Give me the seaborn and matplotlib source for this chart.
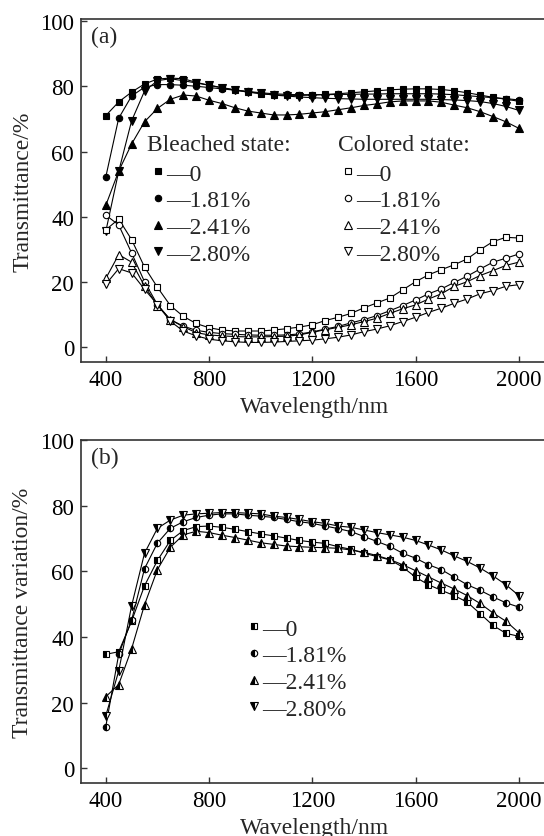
import numpy as np
import matplotlib
matplotlib.use("Agg")
import matplotlib.pyplot as plt
import seaborn as sns
from matplotlib.lines import Line2D

# wavelength grid (nm)
wavelength = [400, 450, 500, 550, 600, 650, 700, 750, 800, 850, 900, 950, 1000,
              1050, 1100, 1150, 1200, 1250, 1300, 1350, 1400, 1450, 1500, 1550,
              1600, 1650, 1700, 1750, 1800, 1850, 1900, 1950, 2000]

# (a) bleached state transmittance
bleached_0 = [71.0, 75.2, 78.2, 80.7, 82.2, 82.5, 82.3, 81.2, 80.3, 79.5, 78.8, 78.2, 77.7,
              77.4, 77.2, 77.2, 77.3, 77.5, 77.7, 78.0, 78.3, 78.6, 78.9, 79.1,
              79.2, 79.2, 79.0, 78.6, 78.0, 77.3, 76.6, 76.0, 75.4]
bleached_181 = [52.2, 70.2, 77.0, 79.7, 80.5, 80.5, 80.3, 80.0, 79.6, 79.2, 78.8, 78.4, 78.0,
                77.7, 77.5, 77.4, 77.4, 77.4, 77.5, 77.5, 77.6, 77.6, 77.7, 77.7,
                77.7, 77.7, 77.6, 77.4, 77.1, 76.8, 76.5, 76.2, 75.8]
bleached_241 = [43.5, 54.0, 62.3, 69.1, 73.2, 76.0, 77.3, 77.0, 75.7, 74.7, 73.4, 72.4, 71.8,
                71.2, 71.2, 71.4, 71.8, 72.2, 72.8, 73.4, 74.1, 74.6, 75.2, 75.5,
                75.5, 75.5, 75.1, 74.2, 73.4, 72.2, 70.7, 69.1, 67.1]
bleached_280 = [35.5, 53.9, 69.4, 78.5, 81.7, 82.3, 81.7, 81.0, 80.3, 79.6, 78.9, 78.3, 77.8,
                77.3, 77.0, 76.7, 76.5, 76.3, 76.2, 76.1, 76.0, 76.0, 76.0, 76.0,
                76.0, 76.0, 75.9, 75.8, 75.6, 75.3, 74.7, 73.8, 72.6]

# (a) colored state transmittance
colored_0 = [36.0, 39.3, 33.0, 24.6, 18.4, 12.8, 9.5, 7.3, 6.0, 5.3, 5.0, 5.0, 5.0,
             5.3, 5.7, 6.2, 6.9, 8.2, 9.2, 10.4, 12.1, 13.6, 15.1, 17.6,
             20.1, 22.2, 23.8, 25.3, 27.1, 29.9, 32.4, 33.7, 33.5]
colored_181 = [40.5, 37.5, 28.9, 20.1, 13.1, 8.5, 6.5, 5.2, 4.6, 4.2, 4.0, 3.8, 3.7,
               3.7, 3.8, 4.1, 4.7, 5.6, 6.4, 7.5, 8.5, 9.7, 11.2, 12.8,
               14.5, 16.4, 17.9, 19.9, 21.8, 24.0, 26.1, 27.3, 28.6]
colored_241 = [21.1, 28.4, 26.1, 18.8, 12.8, 8.5, 6.3, 4.5, 3.8, 3.5, 3.3, 3.2, 3.2,
               3.3, 3.4, 3.8, 4.6, 5.4, 6.1, 6.9, 7.9, 8.9, 10.4, 11.8,
               13.0, 14.8, 16.4, 18.7, 20.1, 22.0, 23.5, 25.1, 26.1]
colored_280 = [19.3, 24.1, 22.8, 17.8, 13.1, 8.0, 5.0, 3.5, 2.5, 2.0, 1.7, 1.5, 1.5,
               1.6, 1.8, 2.0, 2.2, 2.6, 3.1, 3.8, 4.8, 5.6, 6.6, 7.9,
               9.2, 10.7, 12.0, 13.5, 14.8, 16.4, 17.4, 18.7, 19.2]

# (b) transmittance variation
variation_0 = [34.7, 35.5, 44.8, 55.6, 63.3, 69.4, 72.4, 73.6, 73.8, 73.4, 72.8, 72.1, 71.4,
               70.8, 70.1, 69.4, 68.9, 68.5, 67.5, 66.7, 65.5, 64.5, 63.5, 61.3,
               58.2, 55.9, 54.2, 52.6, 50.6, 47.1, 43.5, 41.1, 40.2]
variation_181 = [12.7, 34.7, 45.1, 60.8, 68.6, 73.1, 75.1, 76.4, 77.1, 77.5, 77.5, 77.1, 76.8,
                 76.4, 75.8, 75.1, 74.6, 73.8, 73.0, 72.1, 70.6, 69.1, 67.6, 65.5,
                 64.0, 62.0, 60.5, 58.2, 55.9, 54.2, 52.2, 50.4, 49.1]
variation_241 = [21.8, 25.5, 36.4, 49.8, 60.5, 67.3, 71.1, 72.2, 71.8, 71.0, 70.3, 69.5, 68.7,
                 68.2, 67.7, 67.5, 67.3, 67.2, 67.0, 66.5, 65.8, 64.8, 63.6, 62.0,
                 60.2, 58.3, 56.4, 54.6, 52.6, 50.2, 47.3, 44.8, 41.3]
variation_280 = [16.0, 29.6, 49.5, 65.5, 73.1, 75.6, 77.1, 77.5, 77.7, 77.9, 77.9, 77.7, 77.5,
                 76.8, 76.4, 75.8, 75.1, 74.6, 73.8, 73.4, 72.6, 71.8, 71.1, 70.4,
                 69.4, 68.0, 66.5, 64.7, 63.0, 61.0, 58.6, 55.9, 52.6]

labels = ["\u20140", "\u20141.81%", "\u20142.41%", "\u20142.80%"]
markers = ["s", "o", "^", "v"]
msizes = [4.5, 4.6, 5.4, 5.4]

sns.set_theme(style="ticks")
plt.rcParams["font.family"] = ["Liberation Serif", "DejaVu Serif"]

fig = plt.figure(figsize=(5.44, 8.37), dpi=100)
ax_a = fig.add_axes([0.1489, 0.5663, 0.8585, 0.4098])
ax_b = fig.add_axes([0.1489, 0.0633, 0.8585, 0.4098])

line_kw = dict(color="black", lw=0.8, markeredgecolor="black", markeredgewidth=0.8)

# panel (a)
for vals, m, ms in zip([bleached_0, bleached_181, bleached_241, bleached_280], markers, msizes):
    sns.lineplot(x=wavelength, y=vals, ax=ax_a, marker=m, markersize=ms,
                 markerfacecolor="black", **line_kw)
for vals, m, ms in zip([colored_0, colored_181, colored_241, colored_280], markers, msizes):
    sns.lineplot(x=wavelength, y=vals, ax=ax_a, marker=m, markersize=ms,
                 markerfacecolor="white", **line_kw)

# panel (b)
for vals, m, ms in zip([variation_0, variation_181, variation_241, variation_280], markers, msizes):
    sns.lineplot(x=wavelength, y=vals, ax=ax_b, marker=m, markersize=ms,
                 markerfacecolor="black", markerfacecoloralt="white",
                 fillstyle="left", **line_kw)

tick_fs = 16.5
for ax, ylab, ylim in [(ax_a, "Transmittance/%", (-4.5, 100.6)),
                       (ax_b, "Transmittance variation/%", (-4.5, 99.6))]:
    ax.set_xlim(304, 2113)
    ax.set_ylim(*ylim)
    ax.set_xticks([400, 800, 1200, 1600, 2000])
    ax.set_yticks([0, 20, 40, 60, 80, 100])
    ax.tick_params(direction="in", length=4, width=1, labelsize=tick_fs, pad=5,
                   colors="#333333", labelcolor="black")
    ax.set_xlabel("Wavelength/nm", fontsize=17, labelpad=4)
    ax.set_ylabel(ylab, fontsize=17, labelpad=5)
    for s in ax.spines.values():
        s.set_linewidth(1.2)
        s.set_color("#333333")

ax_a.text(0.021, 0.948, "(a)", transform=ax_a.transAxes, fontsize=17, va="center", ha="left")
ax_b.text(0.021, 0.948, "(b)", transform=ax_b.transAxes, fontsize=17, va="center", ha="left")

leg_kw = dict(loc="upper left", frameon=False, fontsize=17, handlelength=0.5,
              handletextpad=0.1, labelspacing=0.22, borderpad=0, borderaxespad=0)


def handles(face, **extra):
    return [Line2D([], [], ls="none", marker=m, markersize=ms, color="black",
                   markerfacecolor=face, markeredgecolor="black", markeredgewidth=0.8, **extra)
            for m, ms in zip(markers, msizes)]


ax_a.text(0.141, 0.635, "Bleached state:", transform=ax_a.transAxes, fontsize=17, va="center")
ax_a.text(0.550, 0.635, "Colored state:", transform=ax_a.transAxes, fontsize=17, va="center")
leg1 = ax_a.legend(handles("black"), labels, bbox_to_anchor=(0.152, 0.580), **leg_kw)
ax_a.add_artist(leg1)
ax_a.legend(handles("white"), labels, bbox_to_anchor=(0.559, 0.580), **leg_kw)

ax_b.legend(handles("black", fillstyle="left", markerfacecoloralt="white"), labels,
            bbox_to_anchor=(0.357, 0.481), **leg_kw)

fig.savefig("out.png", dpi=100)
